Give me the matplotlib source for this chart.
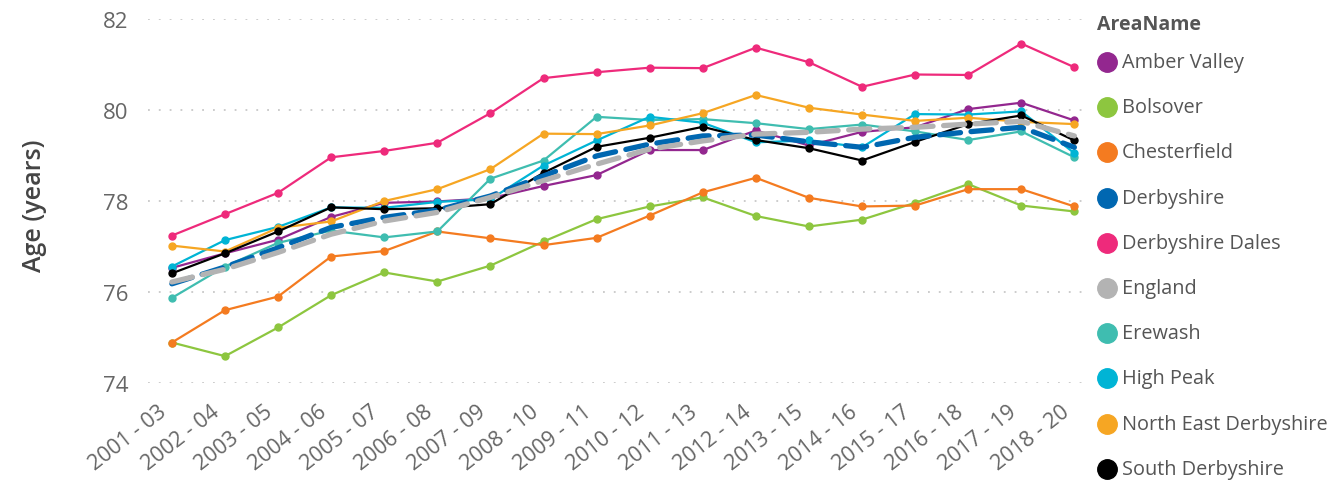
import matplotlib
matplotlib.use("Agg")
import matplotlib.pyplot as plt
import matplotlib.transforms as mtransforms
from matplotlib.lines import Line2D

plt.rcParams['font.family'] = ['Open Sans', 'DejaVu Sans']

periods = ["2001 - 03", "2002 - 04", "2003 - 05", "2004 - 06", "2005 - 07", "2006 - 08",
           "2007 - 09", "2008 - 10", "2009 - 11", "2010 - 12", "2011 - 13", "2012 - 14",
           "2013 - 15", "2014 - 16", "2015 - 17", "2016 - 18", "2017 - 19", "2018 - 20"]

amber_valley = [76.53, 76.85, 77.15, 77.65, 77.96, 77.99, 78.06, 78.33, 78.57, 79.12, 79.12, 79.55,
                79.22, 79.52, 79.62, 80.02, 80.16, 79.77]
bolsover = [74.89, 74.59, 75.22, 75.93, 76.43, 76.23, 76.58, 77.11, 77.60, 77.88, 78.08, 77.67,
            77.44, 77.59, 77.96, 78.37, 77.90, 77.77]
chesterfield = [74.89, 75.60, 75.90, 76.78, 76.90, 77.33, 77.18, 77.03, 77.19, 77.68, 78.19, 78.51,
                78.07, 77.88, 77.90, 78.26, 78.26, 77.88]
derbyshire = [76.18, 76.55, 76.97, 77.42, 77.64, 77.80, 78.11, 78.55, 78.99, 79.25, 79.43, 79.45,
              79.30, 79.18, 79.40, 79.52, 79.62, 79.18]
derbyshire_dales = [77.24, 77.71, 78.18, 78.96, 79.10, 79.28, 79.93, 80.70, 80.83, 80.93, 80.92, 81.37,
                    81.05, 80.51, 80.78, 80.77, 81.46, 80.94]
england = [76.22, 76.50, 76.87, 77.27, 77.56, 77.75, 78.08, 78.45, 78.81, 79.14, 79.32, 79.47,
           79.51, 79.58, 79.62, 79.69, 79.75, 79.43]
erewash = [75.87, 76.56, 77.08, 77.35, 77.20, 77.33, 78.49, 78.89, 79.85, 79.78, 79.80, 79.71,
           79.58, 79.68, 79.53, 79.34, 79.53, 78.96]
high_peak = [76.56, 77.14, 77.43, 77.86, 77.85, 77.98, 78.04, 78.78, 79.33, 79.85, 79.72, 79.29,
             79.33, 79.18, 79.91, 79.90, 79.97, 79.05]
ne_derbyshire = [77.02, 76.89, 77.41, 77.55, 78.00, 78.26, 78.70, 79.48, 79.47, 79.66, 79.93, 80.33,
                 80.05, 79.90, 79.76, 79.83, 79.74, 79.69]
south_derbyshire = [76.41, 76.85, 77.33, 77.86, 77.82, 77.84, 77.93, 78.62, 79.19, 79.39, 79.63, 79.34,
                    79.16, 78.89, 79.30, 79.69, 79.88, 79.33]

names = ["Amber Valley", "Bolsover", "Chesterfield", "Derbyshire", "Derbyshire Dales", "England",
         "Erewash", "High Peak", "North East Derbyshire", "South Derbyshire"]
series = [amber_valley, bolsover, chesterfield, derbyshire, derbyshire_dales, england,
          erewash, high_peak, ne_derbyshire, south_derbyshire]
colors = ["#93278F", "#8DC63F", "#F47B20", "#0067B1", "#EE2A7B", "#B3B3B3",
          "#3FBDB0", "#00B4D5", "#F6A623", "#000000"]
dashed = ["Derbyshire", "England"]

fig = plt.figure(figsize=(13.32, 4.81), dpi=100)
ax = fig.add_axes([148 / 1332, 1 - 384 / 481, (1085 - 148) / 1332, (384 - 20) / 481])

x = list(range(len(periods)))
for name, vals, c in zip(names, series, colors):
    if name in dashed:
        continue
    ax.plot(x, vals, color=c, lw=1.6, marker='o', ms=5, zorder=3)
# dashed reference lines on top
ax.plot(x, derbyshire, color=colors[3], lw=3.8, ls=(0, (4, 2)), zorder=4, dash_capstyle='round')
ax.plot(x, england, color=colors[5], lw=3.8, ls=(0, (4, 2)), zorder=5, dash_capstyle='round')

ax.set_ylim(74, 82)
ax.set_xlim(-0.45, 17.2)
ax.set_yticks([74, 76, 78, 80, 82])
ax.set_xticks(x)
ax.set_xticklabels(periods, rotation=38, ha='right', rotation_mode='anchor')
ax.tick_params(axis='x', length=0, labelsize=15.5, colors='#666666', pad=13)
ax.tick_params(axis='y', length=0, labelsize=16, colors='#666666', pad=14)
# nudge the slanted labels a little to the left, like the original
shift = mtransforms.ScaledTranslation(-14 / 100, 0, fig.dpi_scale_trans)
for lab in ax.get_xticklabels():
    lab.set_transform(lab.get_transform() + shift)
ax.grid(axis='y', color='#C8C8C8', ls=(0, (1, 5)), lw=1.3)
for s in ax.spines.values():
    s.set_visible(False)
ax.set_ylabel("Age (years)", fontsize=18, color='#444444', fontweight='semibold')
ax.yaxis.set_label_coords(-(148 - 47) / (1085 - 148), 0.49)

# legend
fig.text(1097 / 1332, 1 - 25 / 481, "AreaName", fontsize=14, fontweight='bold',
         color='#555555', va='center', ha='left')
for i, (name, c) in enumerate(zip(names, colors)):
    yy = 1 - (63 + i * 45.2) / 481
    fig.add_artist(Line2D([1107 / 1332], [yy], marker='o', ms=14, color=c, ls='none',
                          transform=fig.transFigure))
    fig.text(1122 / 1332, yy, name, fontsize=14.3, color='#555555', va='center', ha='left')

fig.savefig("out.png", dpi=100)
